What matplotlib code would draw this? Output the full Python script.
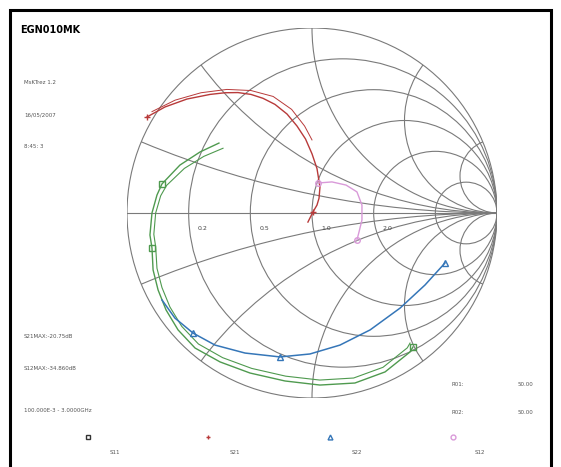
import numpy as np
import matplotlib.pyplot as plt
from matplotlib.patches import Circle, Rectangle

# reflection coefficients, (re, im) per frequency point
s11_re = [-0.503, -0.605, -0.714, -0.811, -0.838, -0.865, -0.876, -0.865, -0.859, -0.832, -0.789, -0.724, -0.632, -0.497, -0.335, -0.146, 0.043, 0.232, 0.395, 0.530, 0.546]
s11_im = [0.378, 0.330, 0.259, 0.157, 0.097, 0.000, -0.119, -0.189, -0.308, -0.416, -0.524, -0.632, -0.730, -0.805, -0.865, -0.908, -0.930, -0.919, -0.859, -0.751, -0.724]
s11b_re = [-0.481, -0.585, -0.690, -0.786, -0.818, -0.845, -0.855, -0.845, -0.838, -0.811, -0.768, -0.704, -0.614, -0.483, -0.326, -0.142, 0.042, 0.225, 0.384, 0.515, 0.530]
s11b_im = [0.350, 0.306, 0.241, 0.149, 0.093, 0.000, -0.115, -0.183, -0.299, -0.403, -0.508, -0.613, -0.708, -0.782, -0.840, -0.882, -0.903, -0.892, -0.834, -0.729, -0.703]

s21_re = [-0.892, -0.795, -0.676, -0.551, -0.470, -0.400, -0.330, -0.265, -0.200, -0.135, -0.081, -0.035, 0.000, 0.027, 0.043, 0.038, 0.027, 0.005, -0.022]
s21_im = [0.519, 0.573, 0.616, 0.641, 0.650, 0.651, 0.641, 0.620, 0.587, 0.535, 0.470, 0.400, 0.320, 0.240, 0.140, 0.080, 0.043, 0.005, -0.049]
s21b_re = [-0.865, -0.740, -0.600, -0.460, -0.330, -0.210, -0.110, -0.040, 0.000]
s21b_im = [0.548, 0.610, 0.650, 0.668, 0.662, 0.630, 0.560, 0.470, 0.395]

s22_re = [-0.811, -0.741, -0.643, -0.524, -0.362, -0.173, -0.011, 0.151, 0.314, 0.476, 0.611, 0.719]
s22_im = [-0.470, -0.568, -0.649, -0.714, -0.757, -0.778, -0.762, -0.714, -0.632, -0.514, -0.389, -0.270]

s12_re = [0.032, 0.108, 0.184, 0.243, 0.270, 0.270, 0.254, 0.243]
s12_im = [0.162, 0.168, 0.151, 0.114, 0.043, -0.038, -0.103, -0.146]

r_grid = [0.2, 0.5, 1.0, 2.0, 5.0]
x_grid = [0.2, 0.5, 1.0, 2.0, 5.0]
r_labels = ['0.2', '0.5', '1.0', '2.0']

info_left = ['MsKTrez 1.2', '16/05/2007', '8:45: 3']
info_max = ['S21MAX:-20.75dB', 'S12MAX:-34.860dB']
freq_span = '100.000E-3 - 3.0000GHz'
ref_names = ['R01:', 'R02:']
ref_vals = ['50.00', '50.00']

c11 = '#4f9a4f'
c21 = '#b83a3a'
c22 = '#3576b8'
c12 = '#d99ad9'
grid_c = '#7a7a7a'

W, H = 561, 467
fig = plt.figure(figsize=(W / 100, H / 100), dpi=100)
ax = fig.add_axes([127 / W, (H - 398) / H, 370 / W, 370 / H])
ax.set_xlim(-1, 1)
ax.set_ylim(-1, 1)
ax.axis('off')

# Smith chart grid
outer = Circle((0, 0), 1, fill=False, ec=grid_c, lw=0.8)
ax.add_patch(outer)
ax.plot([-1, 1], [0, 0], color=grid_c, lw=0.8)
for r in r_grid:
    ax.add_patch(Circle((r / (1 + r), 0), 1 / (1 + r), fill=False, ec=grid_c, lw=0.8))
clip = Circle((0, 0), 1, transform=ax.transData)
for x in x_grid:
    for s in (1, -1):
        arc = Circle((1, s / x), 1 / x, fill=False, ec=grid_c, lw=0.8)
        ax.add_patch(arc)
        arc.set_clip_path(clip)
for r, lab in zip(r_grid, r_labels):
    ax.text((r - 1) / (r + 1) + 0.075, -0.085, lab, fontsize=4.5, color='#444444',
            ha='center', va='center')

# traces
ax.plot(s11_re, s11_im, color=c11, lw=1.0, marker='s', markersize=4, mfc='none',
        mec=c11, markevery=[3, 7, 20])
ax.plot(s11b_re, s11b_im, color=c11, lw=0.8)
ax.plot(s21_re, s21_im, color=c21, lw=1.0, marker='+', markersize=5, mec=c21,
        markevery=[0, 17])
ax.plot(s21b_re, s21b_im, color=c21, lw=0.7)
ax.plot(s22_re, s22_im, color=c22, lw=1.1, marker='^', markersize=4, mfc='none',
        mec=c22, markevery=[2, 5, 11])
ax.plot(s12_re, s12_im, color=c12, lw=1.0, marker='o', markersize=4, mfc='none',
        mec=c12, markevery=[0, 7])

# frame and annotations
fig.patches.append(Rectangle((10 / W, -0.05), 541 / W, (H - 10) / H + 0.05,
                             transform=fig.transFigure, fill=False, ec='black', lw=2.2))
fig.text(20 / W, 1 - 30 / H, 'EGN010MK', fontsize=7, fontweight='bold', va='center')
for i, t in enumerate(info_left):
    fig.text(24 / W, 1 - (83 + 32 * i) / H, t, fontsize=4, color='#555555', va='center')
for i, t in enumerate(info_max):
    fig.text(24 / W, 1 - (337 + 31 * i) / H, t, fontsize=4, color='#555555', va='center')
fig.text(24 / W, 1 - 410 / H, freq_span, fontsize=4, color='#555555', va='center')
for i, (n, v) in enumerate(zip(ref_names, ref_vals)):
    fig.text(452 / W, 1 - (385 + 28 * i) / H, n, fontsize=4, color='#555555', va='center')
    fig.text(518 / W, 1 - (385 + 28 * i) / H, v, fontsize=4, color='#555555', va='center')

legend_names = ['S11', 'S21', 'S22', 'S12']
legend_marks = ['s', '+', '^', 'o']
legend_cols = ['#333333', c21, c22, c12]
legend_x = [88, 208, 330, 453]
for name, m, c, lx in zip(legend_names, legend_marks, legend_cols, legend_x):
    fig.add_artist(plt.Line2D([lx / W], [1 - 437 / H], marker=m, markersize=3.5,
                              mfc='none', mec=c, lw=0))
    fig.text((lx + 22) / W, 1 - 452 / H, name, fontsize=4, color='#555555', va='center')

fig.savefig('out.png', dpi=100)
